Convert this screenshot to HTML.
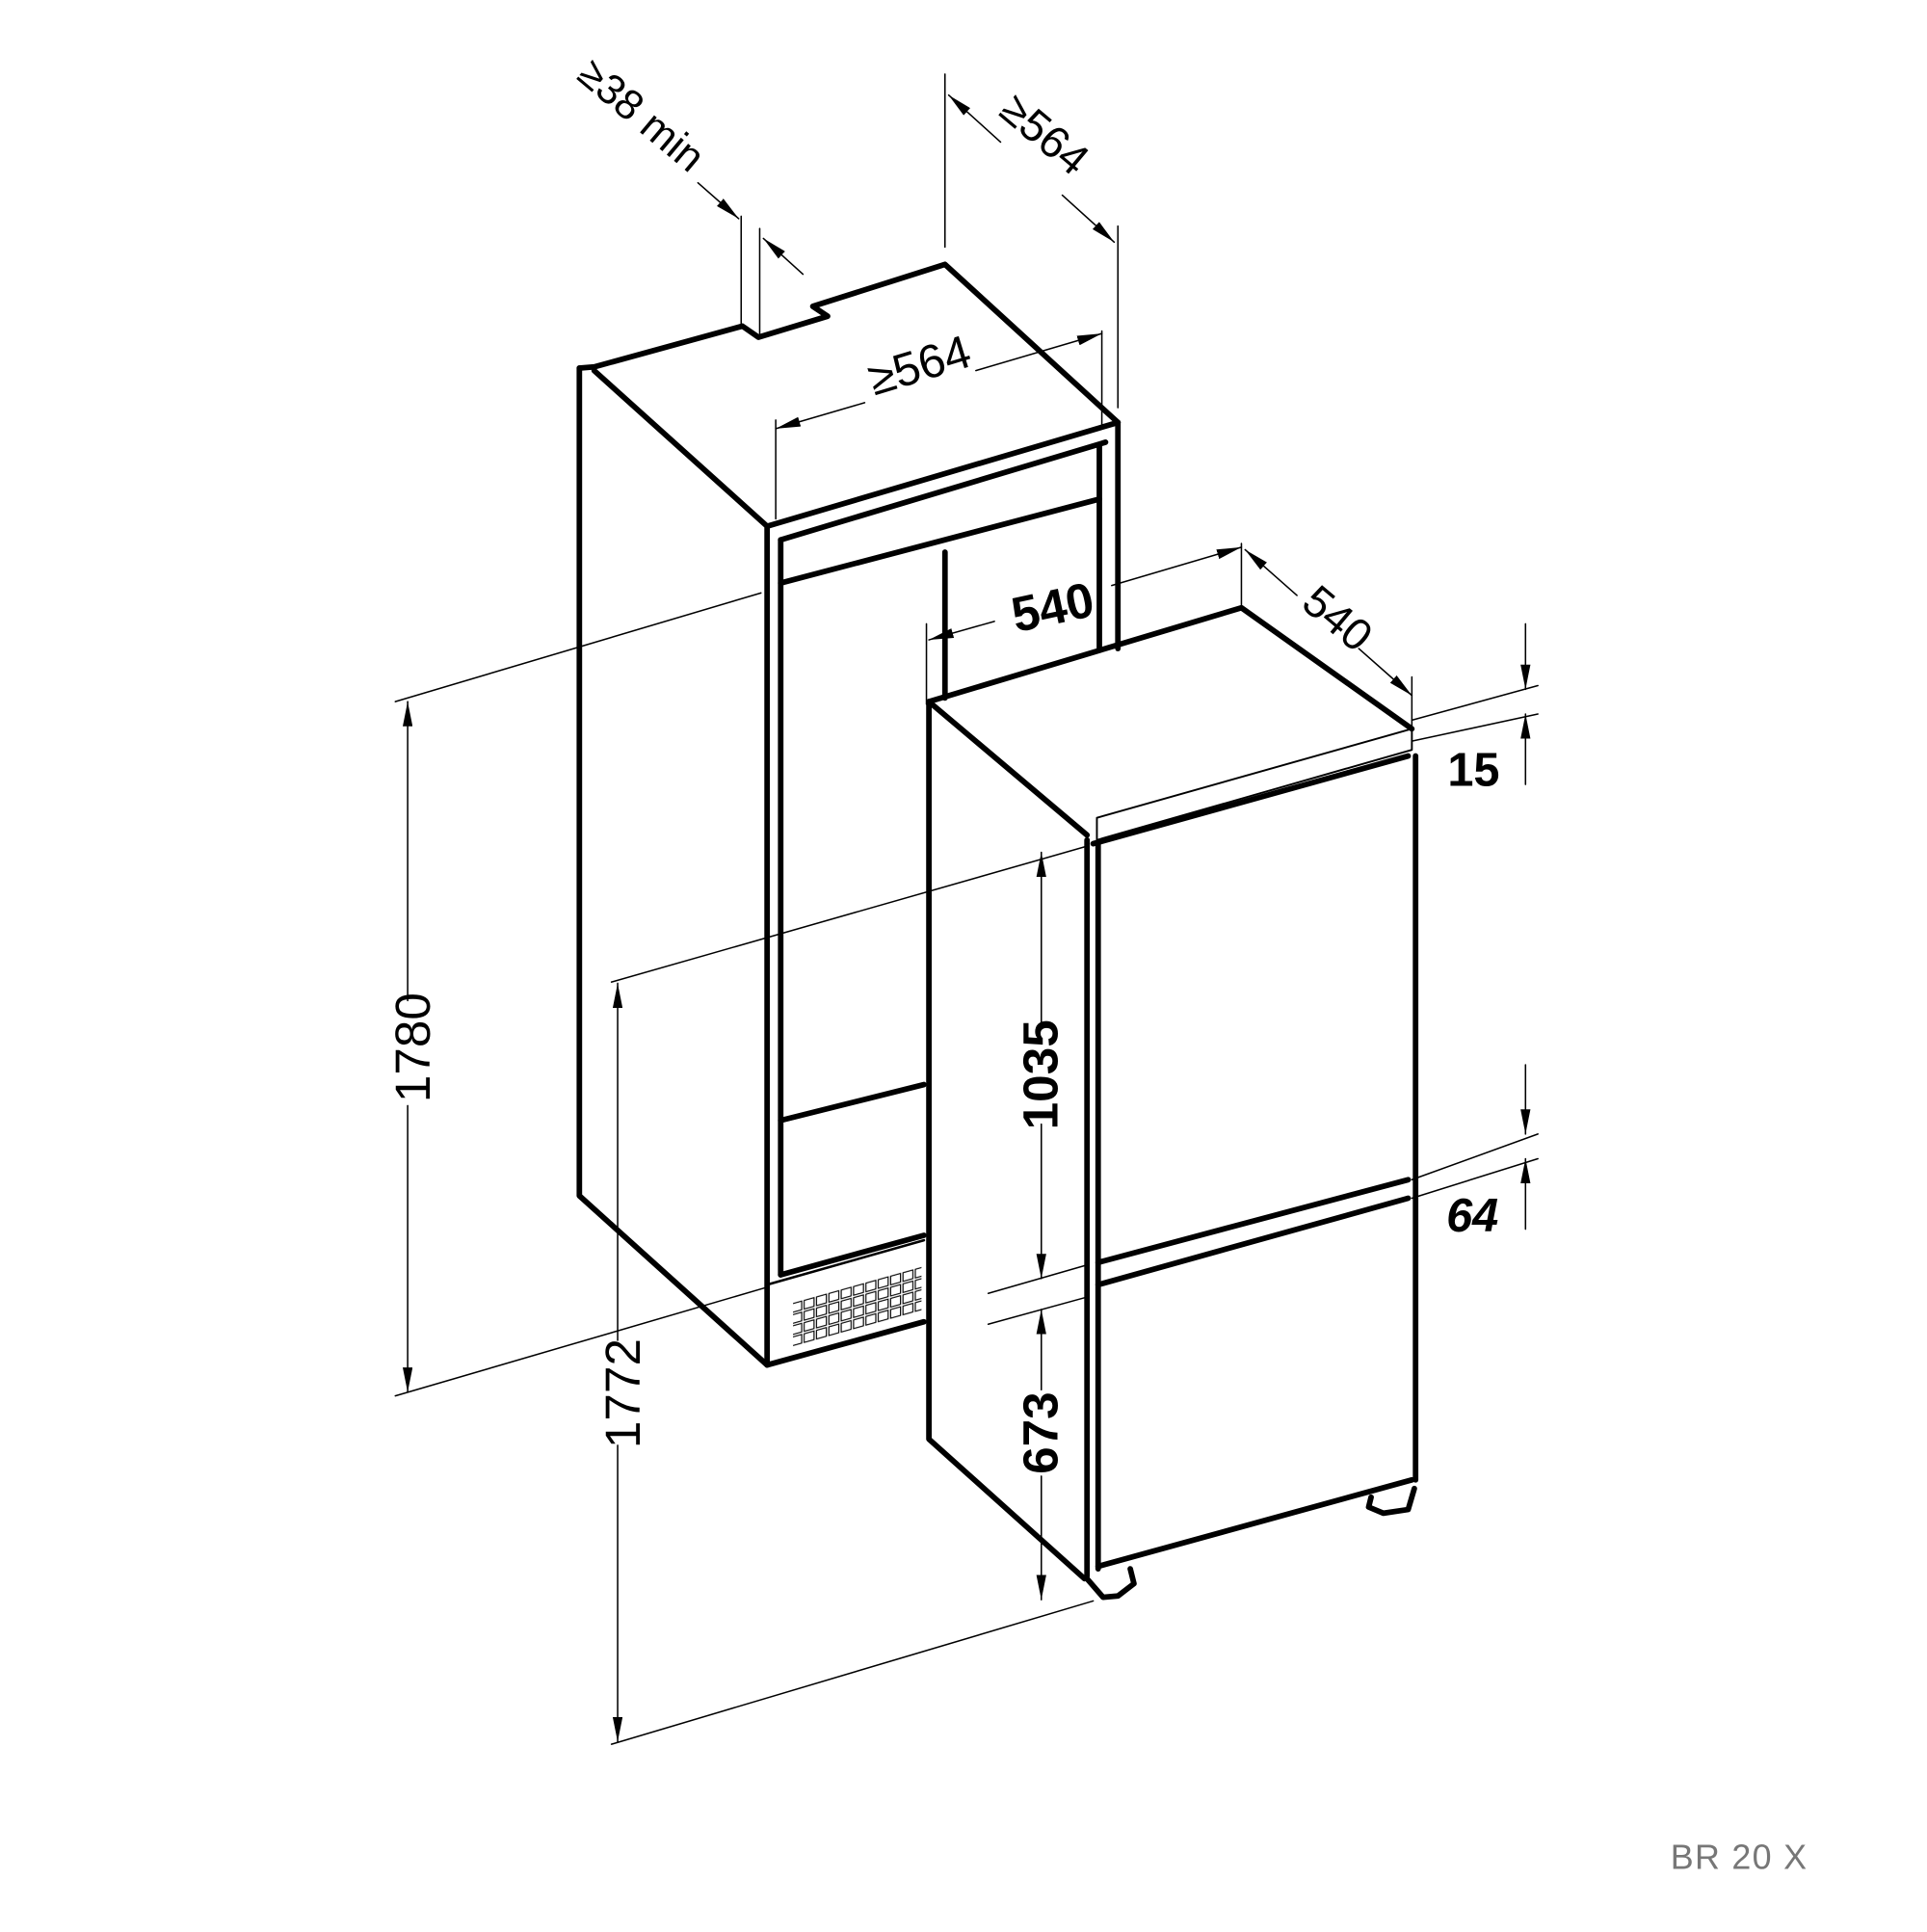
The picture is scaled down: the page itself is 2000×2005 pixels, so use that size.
<!DOCTYPE html>
<html><head><meta charset="utf-8"><style>
html,body{margin:0;padding:0;background:#fff;}
svg{display:block;}
text{font-family:"Liberation Sans",sans-serif;}
</style></head><body>
<svg width="2000" height="2005" viewBox="0 0 1560 1564" xmlns="http://www.w3.org/2000/svg">
<defs>
<marker id="a" viewBox="0 0 20 8" refX="20" refY="4" markerWidth="20" markerHeight="8" markerUnits="userSpaceOnUse" orient="auto"><path d="M0,0 L20,4 L0,8 Z" fill="#000"/></marker>
<pattern id="g" width="10" height="9" patternUnits="userSpaceOnUse"><rect x="1" y="1" width="8" height="7" fill="none" stroke="#000" stroke-width="0.9"/></pattern>
</defs>
<rect width="1560" height="1564" fill="#fff"/>
<g fill="none" stroke="#000" stroke-linejoin="round" stroke-linecap="round">
<!-- cabinet -->
<g stroke-width="4.5">
<polyline points="469,298 469,968 621,1105 748,1070"/>
<polyline points="469,298 481,297 601,264 614,273 670,256 658,248 765,214 905,342"/>
<polyline points="481,300 621,426 621,1105"/>
<line x1="621" y1="426" x2="905" y2="342"/>
<line x1="905" y1="342" x2="905" y2="525"/>
<line x1="632" y1="437" x2="632" y2="1032"/>
<line x1="632" y1="437" x2="895" y2="358"/>
<line x1="890" y1="360" x2="890" y2="525"/>
<line x1="632" y1="472" x2="890" y2="404"/>
<line x1="632" y1="907" x2="748" y2="878"/>
<line x1="632" y1="1032" x2="748" y2="1000"/>
<line x1="765" y1="447" x2="765" y2="565"/>
</g>
<line x1="621" y1="1040" x2="748" y2="1004" stroke-width="2"/>
<rect x="642" y="1044" width="104" height="36" fill="url(#g)" stroke="none" transform="matrix(1,-0.28,0,1,0,190)"/>
<!-- appliance -->
<g stroke-width="4.5">
<polyline points="752,568 1005,492 1143,590"/>
<polyline points="752,568 752,1165 878,1278"/>
<line x1="752" y1="568" x2="880" y2="676"/>
<line x1="885" y1="683" x2="1140" y2="612"/>
<line x1="880" y1="680" x2="880" y2="1276"/>
<line x1="889" y1="682" x2="889" y2="1270"/>
<line x1="1146" y1="612" x2="1146" y2="1198"/>
<line x1="889" y1="1268" x2="1143" y2="1198"/>
<line x1="889" y1="1022" x2="1140" y2="955"/>
<line x1="889" y1="1040" x2="1140" y2="970"/>
<path d="M880,1278 L893,1293 L905,1292 L918,1282 L915,1270"/>
<path d="M1110,1212 L1108,1220 L1120,1225 L1140,1222 L1145,1205"/>
</g>
<polygon points="888,662 1143,590 1143,607 888,680" stroke-width="1.5"/>
<!-- dimension lines -->
<g stroke-width="1.2">
<line x1="320" y1="568" x2="616" y2="480"/>
<line x1="320" y1="1130" x2="621" y2="1042"/>
<line x1="330" y1="810" x2="330" y2="568" marker-end="url(#a)"/>
<line x1="330" y1="895" x2="330" y2="1127" marker-end="url(#a)"/>
<line x1="495" y1="795" x2="880" y2="685"/>
<line x1="495" y1="1412" x2="885" y2="1296"/>
<line x1="500" y1="1085" x2="500" y2="796" marker-end="url(#a)"/>
<line x1="500" y1="1170" x2="500" y2="1410" marker-end="url(#a)"/>
<line x1="843" y1="830" x2="843" y2="690" marker-end="url(#a)"/>
<line x1="843" y1="910" x2="843" y2="1035" marker-end="url(#a)"/>
<line x1="800" y1="1047" x2="880" y2="1024"/>
<line x1="800" y1="1072" x2="880" y2="1050"/>
<line x1="843" y1="1125" x2="843" y2="1060" marker-end="url(#a)"/>
<line x1="843" y1="1195" x2="843" y2="1295" marker-end="url(#a)"/>
<line x1="1143" y1="583" x2="1245" y2="555"/>
<line x1="1143" y1="600" x2="1245" y2="578"/>
<line x1="1235" y1="505" x2="1235" y2="558" marker-end="url(#a)"/>
<line x1="1235" y1="635" x2="1235" y2="578" marker-end="url(#a)"/>
<line x1="1143" y1="955" x2="1245" y2="918"/>
<line x1="1143" y1="970" x2="1245" y2="938"/>
<line x1="1235" y1="862" x2="1235" y2="918" marker-end="url(#a)"/>
<line x1="1235" y1="995" x2="1235" y2="938" marker-end="url(#a)"/>
<line x1="750" y1="505" x2="750" y2="570"/>
<line x1="805" y1="503" x2="752" y2="518" marker-end="url(#a)"/>
<line x1="900" y1="474" x2="1005" y2="443" marker-end="url(#a)"/>
<line x1="1005" y1="440" x2="1005" y2="492"/>
<line x1="1143" y1="548" x2="1143" y2="590"/>
<line x1="1050" y1="482" x2="1008" y2="445" marker-end="url(#a)"/>
<line x1="1100" y1="525" x2="1143" y2="563" marker-end="url(#a)"/>
<line x1="628" y1="340" x2="628" y2="420"/>
<line x1="892" y1="268" x2="892" y2="345"/>
<line x1="700" y1="326" x2="628" y2="347" marker-end="url(#a)"/>
<line x1="790" y1="300" x2="892" y2="270" marker-end="url(#a)"/>
<line x1="765" y1="60" x2="765" y2="200"/>
<line x1="905" y1="183" x2="905" y2="330"/>
<line x1="810" y1="115" x2="768" y2="77" marker-end="url(#a)"/>
<line x1="860" y1="158" x2="902" y2="196" marker-end="url(#a)"/>
<line x1="600" y1="175" x2="600" y2="262"/>
<line x1="615" y1="185" x2="615" y2="272"/>
<line x1="565" y1="148" x2="598" y2="177" marker-end="url(#a)"/>
<line x1="650" y1="222" x2="618" y2="193" marker-end="url(#a)"/>
</g>
</g>
<g font-size="40" fill="#000">
<text transform="translate(348,848) rotate(-90)" text-anchor="middle">1780</text>
<text transform="translate(518,1128) rotate(-90)" text-anchor="middle">1772</text>
<text transform="translate(856,870) rotate(-90)" text-anchor="middle" font-weight="bold">1035</text>
<text transform="translate(856,1160) rotate(-90)" text-anchor="middle" font-weight="bold">673</text>
<text x="1193" y="636" text-anchor="middle" font-weight="bold" font-size="38">15</text>
<text x="1192" y="997" text-anchor="middle" font-weight="bold" font-style="italic" font-size="38">64</text>
<text transform="translate(855,505) rotate(-12)" text-anchor="middle" font-weight="bold">540</text>
<text transform="translate(1075,510) rotate(40)" text-anchor="middle" font-size="36">540</text>
<text transform="translate(748,308) rotate(-17)" text-anchor="middle" font-size="38">≥564</text>
<text transform="translate(838,118) rotate(40)" text-anchor="middle" font-size="36">≥564</text>
<text transform="translate(512,102) rotate(40)" text-anchor="middle" font-size="34">≥38 min</text>
</g>
<text x="1408" y="1513" text-anchor="middle" font-size="28" fill="#777" letter-spacing="1">BR 20  X</text>
</svg>
</body></html>
